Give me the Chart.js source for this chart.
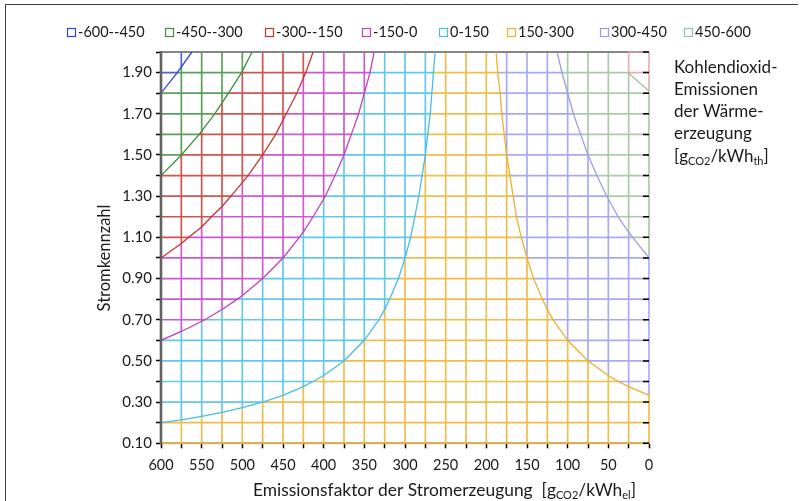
<!DOCTYPE html>
<html>
<head>
<meta charset="utf-8">
<script src="https://cdn.jsdelivr.net/npm/chart.js@4/dist/chart.umd.min.js"></script>
<style>
  html, body { margin: 0; padding: 0; background: #fff; }
  canvas { display: block; }
</style>
</head>
<body>
<canvas id="c" width="803" height="501"></canvas>
<script>
// Value bands of the heat CO2 emissions (legend) and their colours;
// the last colour is the 600+ band in the top right corner.
const bandLabels = ['-600--450', '-450--300', '-300--150', '-150-0', '0-150', '150-300', '300-450', '450-600'];
const bandColors = ['#2f45d8', '#3d8f3d', '#c8352f', '#c23ec2', '#48bde6', '#ebb12c', '#9a9af0', '#9dbf9d', '#e6a0a6'];

// Band boundaries: [Emissionsfaktor g/kWh_el, Stromkennzahl]
const lineM450 = [[600, 1.80], [580, 1.90], [562, 2.00]];
const lineM300 = [[600, 1.40], [575, 1.50], [553, 1.60], [534, 1.70], [517, 1.80], [501, 1.90], [488, 2.00]];
const lineM150 = [[600, 1.00], [575, 1.07], [566, 1.10], [550, 1.15], [538, 1.20], [525, 1.25], [514, 1.30],
                  [493, 1.40], [475, 1.50], [459, 1.60], [446, 1.70], [433, 1.80], [422, 1.90], [413, 2.00]];
const line0    = [[600, 0.60], [575, 0.643], [546, 0.70], [525, 0.75], [506, 0.80], [500, 0.818], [475, 0.90],
                  [450, 1.00], [430, 1.10], [425, 1.125], [413, 1.20], [400, 1.286], [398, 1.30], [386, 1.40],
                  [375, 1.50], [366, 1.60], [357, 1.70], [350, 1.80], [343, 1.90], [338, 2.00]];
const line150  = [[600, 0.20], [575, 0.214], [550, 0.231], [525, 0.25], [500, 0.273], [475, 0.30], [450, 0.333],
                  [425, 0.375], [413, 0.40], [400, 0.429], [375, 0.50], [350, 0.60], [332, 0.70], [325, 0.75],
                  [319, 0.80], [308, 0.90], [300, 1.00], [293, 1.10], [288, 1.20], [283, 1.30], [279, 1.40],
                  [275, 1.50], [272, 1.60], [269, 1.70], [267, 1.80], [265, 1.90], [263, 2.00]];
const line300  = [[0, 0.333], [25, 0.375], [38, 0.40], [50, 0.429], [75, 0.50], [100, 0.60], [118, 0.70],
                  [125, 0.75], [131, 0.80], [142, 0.90], [150, 1.00], [157, 1.10], [163, 1.20], [167, 1.30],
                  [171, 1.40], [175, 1.50], [178, 1.60], [181, 1.70], [183, 1.80], [186, 1.90], [188, 2.00]];
const line450  = [[0, 1.00], [20, 1.10], [25, 1.125], [38, 1.20], [50, 1.286], [52, 1.30], [64, 1.40],
                  [75, 1.50], [84, 1.60], [93, 1.70], [100, 1.80], [107, 1.90], [113, 2.00]];
const line600  = [[0, 1.81], [26, 1.90]];

const boundaries = [lineM450, lineM300, lineM150, line0, line150, line300, line450, line600];

// Axis ranges and steps
const xMin = 0, xMax = 600, xStep = 25, xLabelStep = 50;
const yMin = 0.1, yMax = 2.0, yStep = 0.1;

const FONT = 'Lato';

const datasets = boundaries.map((line, i) => ({
  label: bandLabels[i],
  data: line.map(p => ({ x: p[0], y: p[1] })),
  showLine: true,
  borderColor: bandColors[i],
  backgroundColor: 'transparent',
  borderWidth: 1.3,
  pointRadius: 0,
  fill: false
}));

// Wireframe: every grid line is coloured by the band it runs through
const meshPlugin = {
  id: 'mesh',
  beforeDatasetsDraw(chart) {
    const { ctx, chartArea: ca, scales: { x: xs, y: ys } } = chart;
    const px = v => xs.getPixelForValue(v);
    const py = v => ys.getPixelForValue(v);
    const L = ca.left - 8, R = ca.right + 8, T = ca.top - 8, B = ca.bottom + 8;

    // region on the low-value side (larger emission factor) of a boundary
    const lowSide = line => {
      const pts = line.map(p => [px(p[0]), py(p[1])]);
      const startRight = line[0][0] <= xs.min;
      const first = pts[0], last = pts[pts.length - 1];
      const poly = [[startRight ? R : L, first[1]], ...pts, [last[0], T], [L, T]];
      if (startRight) poly.push([L, B], [R, B]);
      return poly;
    };
    const addPoly = poly => {
      ctx.moveTo(poly[0][0], poly[0][1]);
      for (let i = 1; i < poly.length; i++) ctx.lineTo(poly[i][0], poly[i][1]);
      ctx.closePath();
    };
    const xTicks = xs.ticks.map(t => t.value);
    const yTicks = ys.ticks.map(t => t.value);
    const strokeMesh = color => {
      ctx.strokeStyle = color;
      ctx.globalAlpha = 0.85;
      ctx.lineWidth = 1.7;
      ctx.beginPath();
      xTicks.forEach(v => { ctx.moveTo(px(v), py(ys.min)); ctx.lineTo(px(v), py(ys.max)); });
      yTicks.forEach(v => { ctx.moveTo(px(xs.max), py(v)); ctx.lineTo(px(xs.min), py(v)); });
      ctx.stroke();
      ctx.globalAlpha = 1;
    };

    const lows = boundaries.map(lowSide);
    for (let k = 0; k <= boundaries.length; k++) {
      if (k === boundaries.length) {
        // back wall edge along the top
        ctx.save();
        ctx.strokeStyle = '#858585';
        ctx.lineWidth = 2.2;
        ctx.beginPath();
        ctx.moveTo(ca.left, ca.top);
        ctx.lineTo(ca.right, ca.top);
        ctx.stroke();
        ctx.restore();
      }
      ctx.save();
      ctx.beginPath();
      if (k < boundaries.length) addPoly(lows[k]);
      else addPoly([[L, T], [R, T], [R, B], [L, B]]);
      if (k > 0) addPoly(lows[k - 1]);
      ctx.clip('evenodd');
      strokeMesh(bandColors[k]);
      ctx.restore();
    }
  }
};

function drawRich(ctx, parts, x, y, size) {
  let cx = x;
  parts.forEach(([t, sub]) => {
    const s = sub ? Math.round(size * 0.64) : size;
    ctx.font = s + 'px ' + FONT;
    ctx.fillText(t, cx, sub ? y + size * 0.22 : y);
    cx += ctx.measureText(t).width;
  });
}

// left edge of each legend entry
const legendX = [67, 165, 265, 362, 439, 507, 600, 684];

const textPlugin = {
  id: 'texts',
  afterDraw(chart) {
    const { ctx, chartArea: ca, scales: { y: ys } } = chart;
    ctx.save();

    // outer frame
    ctx.strokeStyle = '#3c3c3c';
    ctx.lineWidth = 1;
    ctx.beginPath();
    ctx.moveTo(5.5, 501);
    ctx.lineTo(5.5, 4.5);
    ctx.lineTo(798, 4.5);
    ctx.stroke();

    // value axis line on the left
    ctx.strokeStyle = '#626262';
    ctx.lineWidth = 2.6;
    ctx.beginPath();
    ctx.moveTo(ca.left, ca.top - 1);
    ctx.lineTo(ca.left, ca.bottom + 1);
    ctx.stroke();

    // inner tick marks on the right edge
    ctx.strokeStyle = '#000';
    ctx.lineWidth = 1.5;
    ctx.beginPath();
    ys.ticks.forEach(t => {
      const y = ys.getPixelForValue(t.value);
      ctx.moveTo(ca.right - 6, y);
      ctx.lineTo(ca.right, y);
    });
    ctx.stroke();

    // legend with open squares
    ctx.fillStyle = '#1a1a1a';
    ctx.textAlign = 'left';
    ctx.textBaseline = 'alphabetic';
    ctx.font = '14.5px ' + FONT;
    const box = 8, gap = 3;
    chart.data.datasets.forEach((d, i) => {
      const lx = legendX[i];
      ctx.strokeStyle = d.borderColor;
      ctx.lineWidth = 1.2;
      ctx.strokeRect(lx + 0.5, 28.5, box, box);
      ctx.fillText(d.label, lx + box + gap, 37);
    });

    // x axis title
    drawRich(ctx, [['Emissionsfaktor der Stromerzeugung  [g', 0], ['CO2', 1], ['/kWh', 0], ['el', 1], [']', 0]], 253, 495.5, 17.4);

    // y axis title
    ctx.save();
    ctx.translate(110, 258);
    ctx.rotate(-Math.PI / 2);
    ctx.textAlign = 'center';
    ctx.font = '16.5px ' + FONT;
    ctx.fillText('Stromkennzahl', 0, 0);
    ctx.restore();

    // side caption
    const capX = 674, capSize = 17;
    ctx.font = capSize + 'px ' + FONT;
    ['Kohlendioxid-', 'Emissionen', 'der Wärme-', 'erzeugung'].forEach((t, i) => {
      ctx.fillText(t, capX, 73 + i * 22);
    });
    drawRich(ctx, [['[g', 0], ['CO2', 1], ['/kWh', 0], ['th', 1], [']', 0]], capX, 161.5, capSize);

    ctx.restore();
  }
};

new Chart(document.getElementById('c'), {
  type: 'scatter',
  data: { datasets },
  options: {
    responsive: false,
    devicePixelRatio: 1,
    animation: false,
    events: [],
    layout: { padding: { left: 121, right: 154, top: 52, bottom: 27.7 } },
    plugins: { legend: { display: false }, tooltip: { enabled: false } },
    scales: {
      x: {
        type: 'linear',
        reverse: true,
        min: xMin,
        max: xMax,
        z: 1,
        afterFit: s => { s.height = 30; },
        ticks: {
          stepSize: xStep,
          autoSkip: false,
          maxRotation: 0,
          padding: 8,
          color: '#1a1a1a',
          font: { family: FONT, size: 14.5 },
          callback: v => (v % xLabelStep === 0 ? String(v) : '')
        },
        grid: { drawOnChartArea: false, drawTicks: true, tickLength: 5, tickColor: '#000', tickWidth: 1.5 },
        border: { display: true, color: 'rgba(105,105,105,0.55)', width: 2 }
      },
      y: {
        type: 'linear',
        min: yMin,
        max: yMax,
        z: 1,
        afterFit: s => { s.width = 40; },
        ticks: {
          stepSize: yStep,
          autoSkip: false,
          padding: 4,
          color: '#1a1a1a',
          font: { family: FONT, size: 15 },
          callback: v => (Math.round(v * 10) % 2 === 1 ? v.toFixed(2) : '')
        },
        grid: { drawOnChartArea: false, drawTicks: true, tickLength: 5, tickColor: '#000', tickWidth: 1.5 },
        border: { display: false }
      }
    }
  },
  plugins: [meshPlugin, textPlugin]
});
</script>
</body>
</html>
